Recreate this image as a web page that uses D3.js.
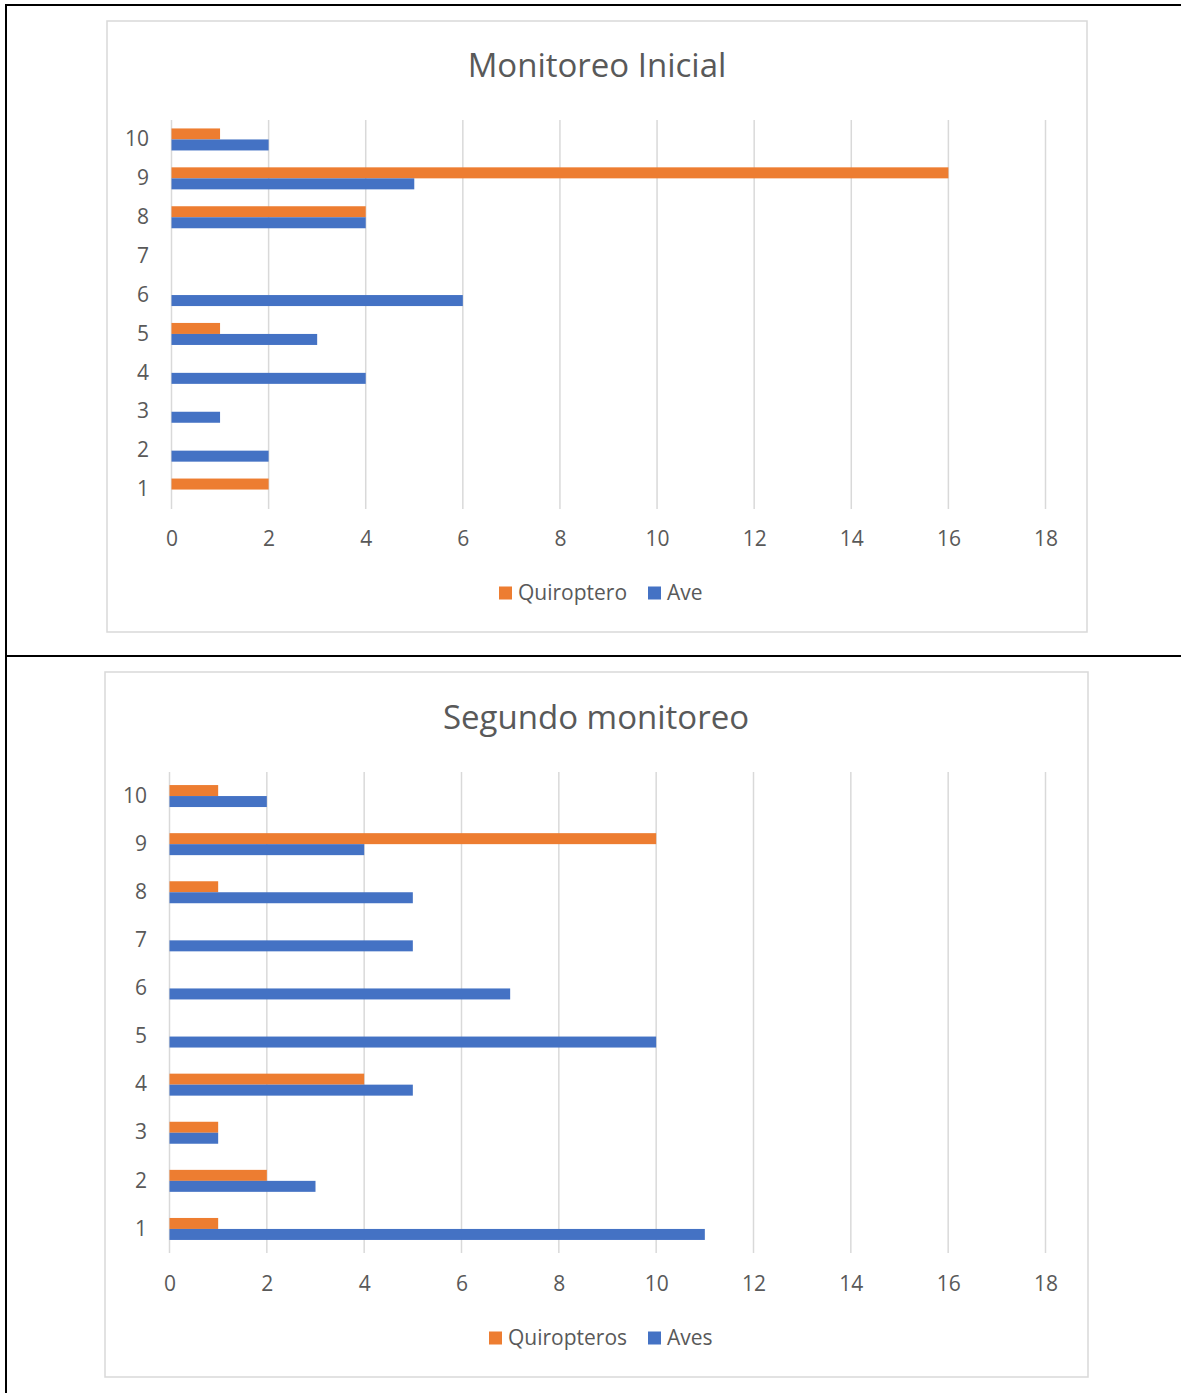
<!DOCTYPE html>
<html>
<head>
<meta charset="utf-8">
<script src="https://cdn.jsdelivr.net/npm/d3@7"></script>
<style>
  body { margin: 0; background: #fff; }
  svg { display: block; }
</style>
</head>
<body>
<div id="chart"></div>
<script>
// 데이터
const categories = [10, 9, 8, 7, 6, 5, 4, 3, 2, 1];
const ticksX = [0, 2, 4, 6, 8, 10, 12, 14, 16, 18];

const inicialQuiroptero = [1, 16, 4, 0, 0, 1, 0, 0, 0, 2];
const inicialAve        = [2, 5, 4, 0, 6, 3, 4, 1, 2, 0];

const segundoQuiropteros = [1, 10, 1, 0, 0, 0, 4, 1, 2, 1];
const segundoAves        = [2, 4, 5, 5, 7, 10, 5, 1, 3, 11];

const colorQ = '#ED7D31';
const colorA = '#4472C4';
const textColor = '#595959';
const gridColor = '#d9d9d9';
const font = '"Open Sans", "Noto Sans", sans-serif';

const W = 1181, H = 1393;

const svg = d3.select('#chart').append('svg')
  .attr('width', W)
  .attr('height', H);

// 표 테두리
svg.append('line').attr('x1', 6).attr('x2', W).attr('y1', 5).attr('y2', 5)
  .attr('stroke', '#000').attr('stroke-width', 2);
svg.append('line').attr('x1', 6).attr('x2', 6).attr('y1', 4).attr('y2', H)
  .attr('stroke', '#000').attr('stroke-width', 2);
svg.append('line').attr('x1', 6).attr('x2', W).attr('y1', 656).attr('y2', 656)
  .attr('stroke', '#000').attr('stroke-width', 2);

/* drawChart : 가로 막대 그래프 */
const drawChart = (opt) => {
  const g = svg.append('g');

  // 차트 영역 박스
  g.append('rect')
    .attr('x', opt.box[0]).attr('y', opt.box[1])
    .attr('width', opt.box[2] - opt.box[0]).attr('height', opt.box[3] - opt.box[1])
    .attr('fill', '#fff').attr('stroke', gridColor).attr('stroke-width', 1.5);

  const x = d3.scaleLinear().domain([0, 18]).range([opt.plot[0], opt.plot[2]]);
  const y = d3.scaleBand().domain(categories).range([opt.plot[1], opt.plot[3]])
    .paddingInner(opt.pad).paddingOuter(opt.pad / 2);
  const ySub = d3.scaleBand().domain(['q', 'a']).range([0, y.bandwidth()]);

  // 격자선
  g.append('g').selectAll('line')
    .data(ticksX)
    .join('line')
    .attr('x1', d => x(d)).attr('x2', d => x(d))
    .attr('y1', opt.plot[1]).attr('y2', opt.plot[3])
    .attr('stroke', gridColor).attr('stroke-width', 1.5);

  // 막대
  const rows = categories.map((c, i) => ({c, q: opt.q[i], a: opt.a[i]}));
  const bars = g.append('g');
  bars.selectAll('rect.q')
    .data(rows.filter(d => d.q > 0))
    .join('rect')
    .attr('class', 'q')
    .attr('x', x(0))
    .attr('y', d => y(d.c) + ySub('q'))
    .attr('width', d => x(d.q) - x(0))
    .attr('height', ySub.bandwidth())
    .attr('fill', colorQ);
  bars.selectAll('rect.a')
    .data(rows.filter(d => d.a > 0))
    .join('rect')
    .attr('class', 'a')
    .attr('x', x(0))
    .attr('y', d => y(d.c) + ySub('a'))
    .attr('width', d => x(d.a) - x(0))
    .attr('height', ySub.bandwidth())
    .attr('fill', colorA);

  // x축
  const xAxis = d3.axisBottom(x).tickValues(ticksX).tickSize(0).tickPadding(0);
  g.append('g')
    .attr('transform', `translate(0, ${opt.xLabelY})`)
    .call(xAxis)
    .call(a => a.select('.domain').remove())
    .call(a => a.selectAll('text')
      .attr('dy', '0.35em')
      .attr('fill', textColor)
      .style('font', `21px ${font}`));

  // y축
  const yAxis = d3.axisLeft(y).tickSize(0).tickPadding(0);
  g.append('g')
    .attr('transform', `translate(${opt.yLabelX}, 0)`)
    .call(yAxis)
    .call(a => a.select('.domain').remove())
    .call(a => a.selectAll('text')
      .attr('fill', textColor)
      .style('font', `21px ${font}`));

  // 제목
  g.append('text')
    .attr('x', opt.titleX).attr('y', opt.titleY)
    .attr('text-anchor', 'middle').attr('dy', '0.35em')
    .attr('fill', textColor)
    .style('font', `33px ${font}`)
    .text(opt.title);

  // 범례
  const leg = g.append('g').attr('transform', `translate(0, ${opt.legendY})`);
  const legItems = [
    {name: opt.names[0], color: colorQ, x: opt.legendX[0]},
    {name: opt.names[1], color: colorA, x: opt.legendX[1]}
  ];
  leg.selectAll('rect').data(legItems).join('rect')
    .attr('x', d => d.x).attr('y', -6.5)
    .attr('width', 13).attr('height', 13)
    .attr('fill', d => d.color);
  leg.selectAll('text').data(legItems).join('text')
    .attr('x', d => d.x + 19).attr('y', 0).attr('dy', '0.35em')
    .attr('fill', textColor)
    .style('font', `21px ${font}`)
    .text(d => d.name);
};

drawChart({
  title: 'Monitoreo Inicial',
  box: [107, 21, 1087, 632],
  plot: [171.5, 120, 1045.5, 509],
  pad: 0.434,
  q: inicialQuiroptero,
  a: inicialAve,
  names: ['Quiroptero', 'Ave'],
  xLabelY: 539,
  yLabelX: 149,
  titleX: 597,
  titleY: 65,
  legendY: 593,
  legendX: [499, 648]
});

drawChart({
  title: 'Segundo monitoreo',
  box: [105, 672, 1088, 1377],
  plot: [169.5, 772, 1045.5, 1253],
  pad: 0.543,
  q: segundoQuiropteros,
  a: segundoAves,
  names: ['Quiropteros', 'Aves'],
  xLabelY: 1284,
  yLabelX: 147,
  titleX: 596,
  titleY: 717,
  legendY: 1338,
  legendX: [489, 648]
});
</script>
</body>
</html>
